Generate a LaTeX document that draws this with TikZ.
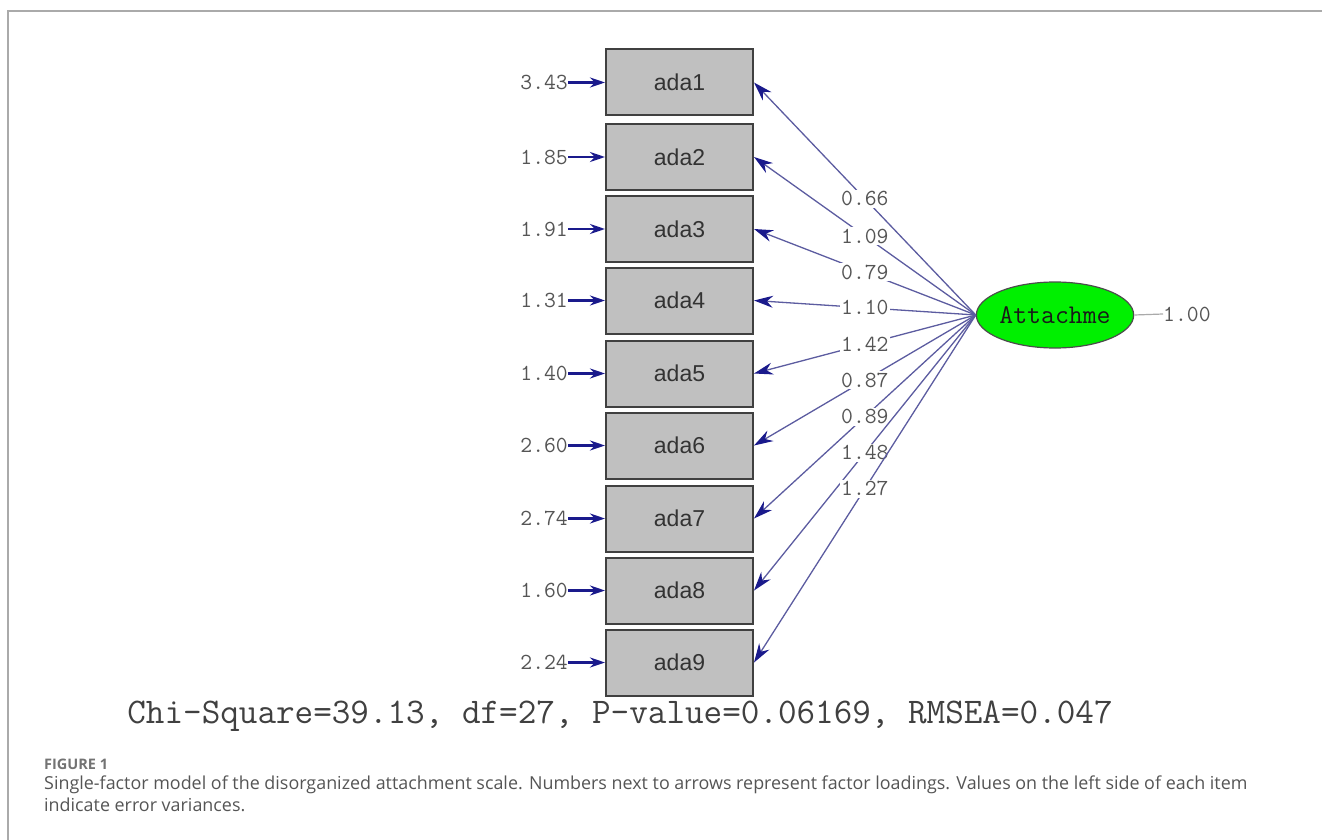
\documentclass[tikz,border=0pt]{standalone}
\usepackage{fontspec}
\setmainfont{Liberation Sans}
\newfontfamily\capf{Open Sans}
\usetikzlibrary{shapes.geometric,arrows.meta}
\definecolor{navyc}{HTML}{1A1A8C}
\definecolor{linec}{HTML}{5C5CA0}
\definecolor{boxfill}{HTML}{C0C0C0}
\definecolor{boxdraw}{HTML}{404040}
\definecolor{numc}{HTML}{555555}
\definecolor{capc}{HTML}{555555}
\definecolor{framec}{HTML}{AAAAAA}
\definecolor{latgreen}{HTML}{00F000}
\tikzset{
  itembox/.style={draw=boxdraw, line width=2pt, fill=boxfill, minimum width=147pt, minimum height=66pt, inner sep=0pt, font=\fontsize{23}{26}\selectfont, text=black!80},
  errlab/.style={anchor=east, inner sep=0pt, font=\ttfamily\fontsize{23}{25}\selectfont, text=numc},
  errarrow/.style={draw=navyc, line width=2.8pt, -{Stealth[length=15pt,width=10pt]}},
  loadline/.style={draw=linec, line width=1.3pt, -{Stealth[length=19pt,width=12pt,color=navyc]}},
  loadlab/.style={fill=white, inner sep=1.5pt, font=\ttfamily\fontsize{23}{25}\selectfont, text=numc},
  latent/.style={ellipse, draw=black!70, line width=1.2pt, fill=latgreen, minimum width=146pt, minimum height=66pt, inner sep=0pt, font=\ttfamily\fontsize{27}{29}\selectfont, text=black!90},
  captext/.style={anchor=base west, inner sep=0pt, font=\capf\fontsize{17.9}{21}\selectfont, text=capc},
}
\begin{document}
\begin{tikzpicture}[x=1pt,y=-1pt]
\useasboundingbox (0,0) rectangle (1322,840);
\draw[framec, line width=1.6pt] (8,840) -- (8,11) -- (1322,11);
\foreach \i/\y/\e in {1/82.5/3.43,2/157/1.85,3/229/1.91,4/300.5/1.31,5/373.5/1.40,6/445.5/2.60,7/518.5/2.74,8/590.5/1.60,9/662.5/2.24}{
  \node[itembox] (b\i) at (679.5,\y) {ada\i};
  \node[errlab] (e\i) at (568,\y) {\e};
  \draw[errarrow] (e\i.east) -- (b\i.west);
}
\node[latent] (att) at (1055,315) {Attachme};
\foreach \i/\l in {1/0.66,2/1.09,3/0.79,4/1.10,5/1.42,6/0.87,7/0.89,8/1.48,9/1.27}{
  \draw[loadline] (att.west) -- node[loadlab] {\l} (b\i.east);
}
\node[anchor=west, inner sep=0pt, font=\ttfamily\fontsize{23}{25}\selectfont, text=numc] (var) at (1163,314) {1.00};
\draw[framec, line width=1.2pt] (att.east) -- (var.west);
\node[inner sep=0pt, font=\ttfamily\fontsize{36.1}{38}\selectfont, text=black!75] (fit) at (620,716) {Chi-Square=39.13, df=27, P-value=0.06169, RMSEA=0.047};
\node[anchor=base west, inner sep=0pt, font=\capf\bfseries\fontsize{14.5}{16}\selectfont, text=black!55] (fig) at (44,769) {FIGURE 1};
\node[captext] (cap1) at (44,789) {Single-factor model of the disorganized attachment scale. Numbers next to arrows represent factor loadings. Values on the left side of each item};
\node[captext] (cap2) at (44,811) {indicate error variances.};
\end{tikzpicture}
\end{document}
